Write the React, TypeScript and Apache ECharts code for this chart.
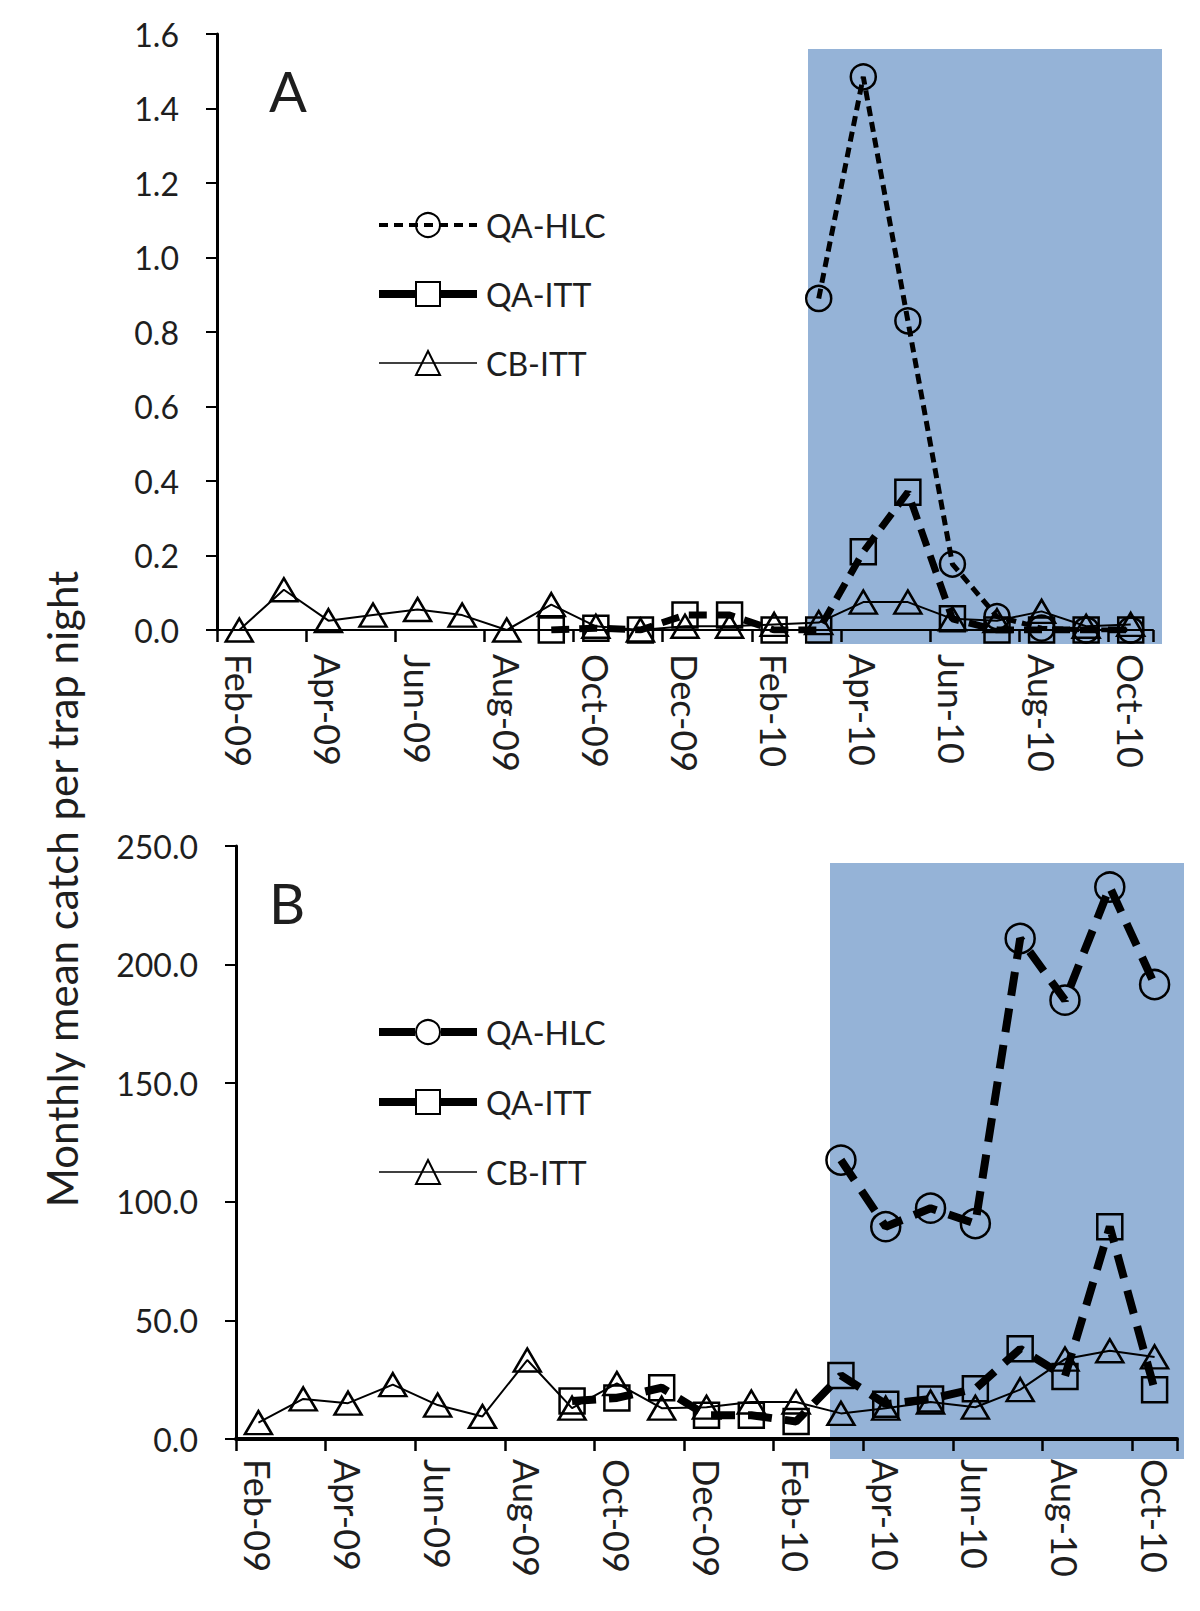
import React, { useEffect, useRef } from "react";
import * as echarts from "echarts";

const months = [
  "Feb-09", "Mar-09", "Apr-09", "May-09", "Jun-09", "Jul-09", "Aug-09",
  "Sep-09", "Oct-09", "Nov-09", "Dec-09", "Jan-10", "Feb-10", "Mar-10",
  "Apr-10", "May-10", "Jun-10", "Jul-10", "Aug-10", "Sep-10", "Oct-10",
];

// Panel A
const aHLC = [null, null, null, null, null, null, null, null, null, null, null, null, null,
  0.89, 1.485, 0.83, 0.177, 0.036, 0.005, 0.0, 0.0];
const aITT = [null, null, null, null, null, null, null,
  0.0, 0.005, 0.0, 0.04, 0.04, 0.0, 0.0, 0.21, 0.37, 0.03, 0.0, 0.0, 0.0, 0.0];
const aCB = [0.0, 0.108, 0.025, 0.04, 0.055, 0.04, 0.0, 0.068, 0.01, 0.0, 0.01,
  0.01, 0.015, 0.02, 0.075, 0.075, 0.03, 0.025, 0.05, 0.01, 0.015];

// Panel B
const bHLC = [null, null, null, null, null, null, null, null, null, null, null, null, null,
  117.6, 89.5, 97.3, 90.8, 211, 185, 232.7, 191.6];
const bITT = [null, null, null, null, null, null, null,
  16, 17.3, 21.6, 10, 10, 7.4, 26.8, 14.7, 16.9, 21.2, 38, 26.4, 89.5, 20.8];
const bCB = [6.9, 16.9, 15.1, 22.9, 14.3, 9.5, 33.3, 13, 23.4, 13, 13.4, 15.6,
  15.6, 10.8, 13, 15.6, 13.4, 20.8, 33.7, 37.2, 34.6];

const seriesNames = ["QA-HLC", "QA-ITT", "CB-ITT"];
const yTicksA = { min: 0, max: 1.6, interval: 0.2 };
const yTicksB = { min: 0, max: 250, interval: 50 };

const FONT = "Lato";
const TXT = "#1e1e1e";
const BLUE = "#95B3D7";

function makeOption(p: any) {
  const axisX = {
    type: "category",
    data: months,
    boundaryGap: true,
    axisLine: { lineStyle: { color: "#000", width: p.xAxisWidth } },
    axisTick: { show: true, interval: 1, length: 12, lineStyle: { color: "#000", width: 2.5 } },
    axisLabel: { interval: 1, rotate: -90, margin: p.xLabelMargin, fontSize: 36, fontFamily: FONT, color: TXT },
    splitLine: { show: false },
  };
  const axisY = {
    type: "value",
    min: p.yTicks.min,
    max: p.yTicks.max,
    interval: p.yTicks.interval,
    splitLine: { show: false },
    axisLine: { show: true, lineStyle: { color: "#000", width: 3 } },
    axisTick: { show: true, length: 11, lineStyle: { color: "#000", width: 2 } },
    axisLabel: {
      margin: 38,
      fontSize: 32,
      fontFamily: FONT,
      color: TXT,
      formatter: (v: number) => v.toFixed(1),
    },
  };
  const graphics: any[] = [
    {
      type: "rect",
      z: -10,
      shape: p.rect,
      style: { fill: BLUE },
      silent: true,
    },
    {
      type: "text",
      x: p.letterX,
      y: p.letterY,
      style: { text: p.letter, font: `56px ${FONT}`, fill: TXT, verticalAlign: "middle", align: "left" },
    },
  ];
  if (p.yTitle) {
    graphics.push({
      type: "text",
      x: 62,
      y: 889,
      rotation: Math.PI / 2,
      style: {
        text: "Monthly mean catch per trap night",
        font: `42px ${FONT}`,
        fill: TXT,
        align: "center",
        verticalAlign: "middle",
      },
    });
  }
  return {
    animation: false,
    backgroundColor: "transparent",
    grid: p.grid,
    xAxis: axisX,
    yAxis: axisY,
    legend: {
      data: seriesNames.map((n, i) => ({ name: n, lineStyle: p.legendLines[i] })),
      orient: "vertical",
      left: 375,
      top: p.legendTop,
      padding: 0,
      itemWidth: 98,
      itemHeight: 30,
      itemGap: p.legendGap,
      selectedMode: false,
      textStyle: { fontSize: 32, fontFamily: FONT, color: TXT, padding: [0, 0, 0, 4] },
    },
    graphic: graphics,
    series: [
      {
        name: "CB-ITT",
        type: "line",
        data: p.cb,
        symbol: "triangle",
        symbolSize: [27, 23],
        lineStyle: { color: "#000", width: 2, type: "solid" },
        itemStyle: { color: "transparent", borderColor: "#000", borderWidth: 2.5 },
        z: 3,
      },
      {
        name: "QA-ITT",
        type: "line",
        data: p.itt,
        symbol: "rect",
        symbolSize: 25,
        lineStyle: { color: "#000", width: p.ittWidth, type: p.ittDash },
        itemStyle: { color: "transparent", borderColor: "#000", borderWidth: 2.5 },
        z: 4,
      },
      {
        name: "QA-HLC",
        type: "line",
        data: p.hlc,
        symbol: "circle",
        symbolSize: p.circleSize,
        lineStyle: { color: "#000", width: p.hlcWidth, type: p.hlcDash },
        itemStyle: { color: "transparent", borderColor: "#000", borderWidth: 2.5 },
        z: 5,
      },
    ],
  };
}

export default function App() {
  const refA = useRef<HTMLDivElement>(null);
  const refB = useRef<HTMLDivElement>(null);

  useEffect(() => {
    const chartA = echarts.init(refA.current!, undefined, { renderer: "svg" });
    const chartB = echarts.init(refB.current!, undefined, { renderer: "svg" });
    chartA.setOption(
      makeOption({
        grid: { left: 217, top: 34, width: 936, height: 596 },
        yTicks: yTicksA,
        xAxisWidth: 2,
        xLabelMargin: 24,
        rect: { x: 808, y: 49, width: 354, height: 595 },
        letter: "A",
        letterX: 269,
        letterY: 90,
        legendTop: 209,
        legendGap: 37,
        legendLines: [
          { color: "#000", width: 4, type: [9, 6] },
          { color: "#000", width: 8, type: [36, 26] },
          { color: "#000", width: 1.5, type: "solid" },
        ],
        cb: aCB,
        itt: aITT,
        hlc: aHLC,
        ittWidth: 7,
        ittDash: [18, 10],
        hlcWidth: 5,
        hlcDash: [10, 6],
        circleSize: 25,
        yTitle: false,
      })
    );
    chartB.setOption(
      makeOption({
        grid: { left: 236, top: 846, width: 941, height: 593 },
        yTicks: yTicksB,
        xAxisWidth: 4,
        xLabelMargin: 20,
        rect: { x: 830, y: 863, width: 354, height: 596 },
        letter: "B",
        letterX: 269,
        letterY: 902,
        legendTop: 1016,
        legendGap: 38,
        legendLines: [
          { color: "#000", width: 8, type: [36, 26] },
          { color: "#000", width: 8, type: [36, 26] },
          { color: "#000", width: 1.5, type: "solid" },
        ],
        cb: bCB,
        itt: bITT,
        hlc: bHLC,
        ittWidth: 8,
        ittDash: [24, 13],
        hlcWidth: 8,
        hlcDash: [24, 13],
        circleSize: 29,
        yTitle: true,
      })
    );
    return () => {
      chartA.dispose();
      chartB.dispose();
    };
  }, []);

  const style: React.CSSProperties = { position: "absolute", left: 0, top: 0, width: 1200, height: 1611 };
  return (
    <div style={{ position: "absolute", left: 0, top: 0, width: 1200, height: 1611 }}>
      <div ref={refA} style={style} />
      <div ref={refB} style={style} />
    </div>
  );
}
